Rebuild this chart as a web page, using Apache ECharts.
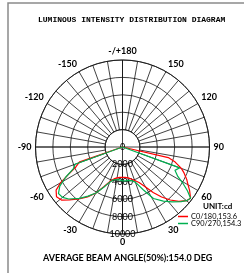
<!DOCTYPE html>
<html>
<head>
<meta charset="utf-8">
<script src="https://cdn.jsdelivr.net/npm/echarts@6/dist/echarts.min.js"></script>
<style>
html, body { margin: 0; padding: 0; background: #fff; }
#chart { width: 244px; height: 273px; }
</style>
</head>
<body>
<div id="chart"></div>
<script>
// C0/180 curve, angles in degrees (0 = straight down, + to the right)
const redAngles = [-90, -71, -67, -63, -60, -57, -53, -49, -45, -40, -35, -30, -25, -20, -15, -10, -5, 0, 5, 10, 15, 20, 25, 30, 34, 38, 42, 46, 50, 53, 57, 60, 63, 67, 70, 74, 77, 90];
const redValues = [0, 5200, 5800, 7000, 8200, 9100, 9500, 9300, 8600, 7800, 7000, 6100, 5000, 4200, 3800, 3600, 3500, 3500, 3500, 3600, 3800, 4100, 4500, 5300, 6300, 7300, 8200, 9000, 9600, 9800, 9200, 8700, 8300, 7700, 7200, 6300, 5400, 0];

// C90/270 curve
const greenAngles = [-90, -70, -66, -62, -58, -54, -50, -46, -40, -35, -30, -25, -20, -15, -10, -5, 0, 5, 10, 15, 20, 26, 31, 37, 42, 47, 50, 53, 56, 59, 62, 66, 70, 90];
const greenValues = [0, 5800, 6200, 7400, 8500, 9100, 9000, 8600, 7700, 6900, 6100, 5100, 4300, 3900, 3800, 3800, 3900, 3900, 3900, 4000, 4300, 5500, 6900, 7800, 8500, 9200, 9600, 9800, 9000, 8100, 7200, 6600, 7000, 0];

const seriesNames = ['C0/180,153.6', 'C90/270,154.3'];
const titleText = 'LUMINOUS INTENSITY DISTRIBUTION DIAGRAM';
const beamText = 'AVERAGE BEAM ANGLE(50%):154.0 DEG';
const unitText = 'UNIT:cd';

const chart = echarts.init(document.getElementById('chart'));

function toPolar(angles, values) {
    return angles.map((a, i) => [values[i], a < 0 ? a + 360 : a]);
}

function angleLabel(v) {
    if (v % 30 !== 0 || v === 360) return '';
    if (v === 180) return '-/+180';
    return v > 180 ? String(v - 360) : String(v);
}

const lineColor = '#111';
const center = [122.5, 147];

const option = {
    animation: false,
    textStyle: { fontFamily: 'Lato' },
    graphic: [{
        type: 'rect',
        shape: { x: 8, y: 3, width: 260, height: 290 },
        style: { fill: 'none', stroke: '#8a8a8a', lineWidth: 1.5 }
    }],
    title: [
        {
            text: titleText,
            left: 38,
            top: 16,
            padding: 0,
            textStyle: { fontFamily: 'Liberation Mono', fontWeight: 'bold', fontSize: 8, color: '#000' }
        },
        {
            text: beamText,
            left: 43,
            top: 254,
            padding: 0,
            textStyle: { fontFamily: 'Lato', fontWeight: 'bold', fontSize: 9, color: '#000' }
        },
        {
            text: unitText,
            left: 203,
            top: 202,
            padding: 0,
            textStyle: { fontFamily: 'Lato', fontWeight: 'bold', fontSize: 8, color: '#000' }
        }
    ],
    legend: {
        orient: 'vertical',
        left: 178,
        top: 213,
        padding: 0,
        itemGap: 0,
        itemWidth: 10,
        itemHeight: 1.5,
        icon: 'rect',
        textStyle: { fontFamily: 'Lato', fontSize: 7.4, color: '#000', padding: [0, 0, 0, -2] },
        data: seriesNames
    },
    polar: [
        { center: center, radius: [17.4, 87] },
        { center: center, radius: [0, 87] }
    ],
    angleAxis: [
        {
            polarIndex: 0,
            type: 'value',
            min: 0,
            max: 360,
            interval: 10,
            startAngle: 270,
            clockwise: false,
            axisLine: { lineStyle: { color: lineColor, width: 0.8 } },
            axisTick: { show: false },
            axisLabel: {
                margin: 4,
                formatter: angleLabel,
                fontFamily: 'Lato',
                fontWeight: 'bold',
                fontSize: 9,
                color: '#000'
            },
            splitLine: { lineStyle: { color: lineColor, width: 0.8 } }
        },
        {
            polarIndex: 1,
            type: 'value',
            min: 0,
            max: 360,
            interval: 90,
            startAngle: 270,
            clockwise: false,
            axisLine: { show: false },
            axisTick: { show: false },
            axisLabel: { show: false },
            splitLine: { lineStyle: { color: lineColor, width: 0.8 } }
        }
    ],
    radiusAxis: [
        {
            polarIndex: 0,
            min: 2000,
            max: 10000,
            show: false
        },
        {
            polarIndex: 1,
            min: 0,
            max: 10000,
            interval: 2000,
            axisLine: { show: false },
            axisTick: { show: false },
            axisLabel: {
                margin: 0,
                rotate: 0,
                align: 'center',
                verticalAlign: 'middle',
                padding: [0, 0, 5, 0],
                formatter: (v) => String(v),
                fontFamily: 'Lato',
                fontSize: 9,
                color: '#000'
            },
            splitLine: { show: true, lineStyle: { color: lineColor, width: 0.8 } }
        }
    ],
    series: [
        {
            name: seriesNames[0],
            type: 'line',
            coordinateSystem: 'polar',
            polarIndex: 1,
            symbol: 'none',
            lineStyle: { color: '#ff0000', width: 1.2 },
            itemStyle: { color: '#ff0000' },
            data: toPolar(redAngles, redValues)
        },
        {
            name: seriesNames[1],
            type: 'line',
            coordinateSystem: 'polar',
            polarIndex: 1,
            symbol: 'none',
            lineStyle: { color: '#00b050', width: 1.2 },
            itemStyle: { color: '#00b050' },
            data: toPolar(greenAngles, greenValues)
        }
    ]
};

chart.setOption(option);
</script>
</body>
</html>
